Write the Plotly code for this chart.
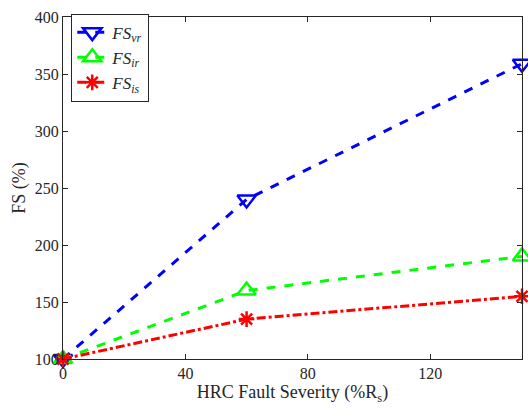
import plotly.graph_objects as go

severity = [0, 60, 150]
fs_vr = [100, 240, 359]
fs_ir = [100, 160, 190]
fs_is = [100, 135, 155]

x_ticks = [0, 40, 80, 120]
y_ticks = [100, 150, 200, 250, 300, 350, 400]

fig = go.Figure()
fig.add_trace(go.Scatter(
    x=severity, y=fs_vr, mode="lines+markers",
    name="<i>FS</i><sub><i>vr</i></sub>",
    line=dict(color="#0000ff", width=3, dash="dash"),
    marker=dict(symbol="triangle-down-open", size=16, color="#0000ff", line=dict(width=2.5)),
    cliponaxis=False,
))
fig.add_trace(go.Scatter(
    x=severity, y=fs_ir, mode="lines+markers",
    name="<i>FS</i><sub><i>ir</i></sub>",
    line=dict(color="#00ff00", width=3, dash="dash"),
    marker=dict(symbol="triangle-up-open", size=16, color="#00ff00", line=dict(width=2.5)),
    cliponaxis=False,
))
fig.add_trace(go.Scatter(
    x=severity, y=fs_is, mode="lines+markers",
    name="<i>FS</i><sub><i>is</i></sub>",
    line=dict(color="#ff0000", width=3, dash="dashdot"),
    marker=dict(symbol="asterisk-open", size=13, color="#ff0000", line=dict(width=2.5, color="#ff0000")),
    cliponaxis=False,
))

axis_common = dict(
    showline=True, mirror="ticks", linecolor="#262626", linewidth=1,
    ticks="inside", ticklen=5, tickcolor="#262626",
    showgrid=False, zeroline=False,
    tickfont=dict(family="Liberation Serif", size=16, color="#262626"),
)

fig.update_layout(
    width=528, height=414,
    margin=dict(l=63, r=6, t=17, b=55),
    paper_bgcolor="white", plot_bgcolor="white",
    font=dict(family="Liberation Serif", size=16, color="#262626"),
    xaxis=dict(range=[0, 150], tickvals=x_ticks,
               title=dict(text="HRC Fault Severity (%R<sub>s</sub>)", font=dict(size=18), standoff=4),
               **axis_common),
    yaxis=dict(range=[100, 400], tickvals=y_ticks,
               title=dict(text="FS (%)", font=dict(size=18), standoff=4),
               **axis_common),
    legend=dict(x=0.018, y=1.01, xanchor="left", yanchor="top",
                bgcolor="white", bordercolor="#262626", borderwidth=1,
                font=dict(family="Liberation Serif", size=17, color="#262626"),
                tracegroupgap=0, itemwidth=30),
    showlegend=True,
)

fig.write_html("out.html")
